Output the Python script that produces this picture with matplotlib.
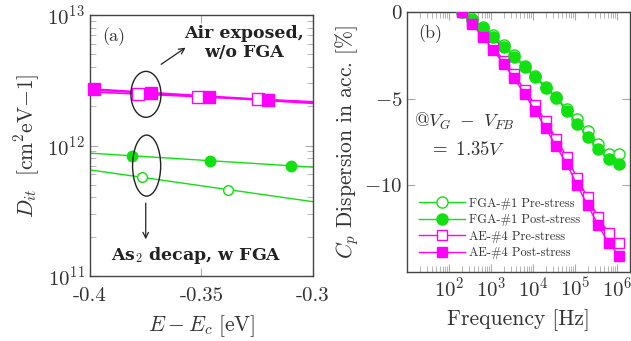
import numpy as np
import matplotlib
matplotlib.use("Agg")
import matplotlib.pyplot as plt
from matplotlib.patches import Ellipse
from matplotlib.ticker import LogLocator, NullFormatter, FixedLocator

plt.rcParams['font.family'] = ['cmr10', 'DejaVu Serif']
plt.rcParams['mathtext.fontset'] = 'cm'
plt.rcParams['axes.formatter.use_mathtext'] = True
plt.rcParams['axes.unicode_minus'] = False

MAG = '#ff00ff'
GRN = '#11e011'
TXT = '#333333'

# ---- panel (a) data: Dit vs E-Ec
ae_pre_E = [-0.3786, -0.3517, -0.3248]
ae_pre_D = [2.48e12, 2.37e12, 2.26e12]
ae_post_E = [-0.398, -0.3728, -0.3466, -0.320]
ae_post_D = [2.70e12, 2.51e12, 2.37e12, 2.23e12]
fga_pre_E = [-0.3765, -0.3383]
fga_pre_D = [5.7e11, 4.6e11]
fga_post_E = [-0.3813, -0.3462, -0.310]
fga_post_D = [8.35e11, 7.64e11, 7.0e11]

# ---- panel (b) data: Cp dispersion vs frequency
freq = [200, 356, 632, 1125, 2000, 3557, 6325, 11250, 20000, 35570,
        63250, 112500, 200000, 355700, 632500, 1125000]
fga_pre = [0, -0.4, -0.85, -1.35, -1.9, -2.5, -3.1, -3.7, -4.3, -4.9,
           -5.6, -6.2, -6.88, -7.64, -8.18, -8.22]
fga_post = [0, -0.45, -0.9, -1.42, -2.0, -2.6, -3.2, -3.77, -4.37, -4.97,
            -5.7, -6.45, -7.22, -7.93, -8.5, -8.75]
ae_pre = [0, -0.6, -1.3, -2.0, -2.8, -3.6, -4.5, -5.35, -6.3, -7.3,
          -8.35, -9.6, -10.7, -11.85, -12.75, -13.35]
ae_post = [0, -0.7, -1.42, -2.18, -3.0, -3.82, -4.75, -5.7, -6.7, -7.75,
           -8.75, -10.0, -11.15, -12.3, -13.35, -14.05]

fig = plt.figure(figsize=(6.31, 3.41), dpi=100)
ax1 = fig.add_axes([0.1426, 0.1906, 0.3534, 0.7654])
ax2 = fig.add_axes([0.645, 0.2023, 0.353, 0.7625])


def style_axes(ax):
    for s in ax.spines.values():
        s.set_color('#444444')
        s.set_linewidth(1.0)
    ax.tick_params(which='both', direction='in', top=True, right=True,
                   color='#aaaaaa', labelcolor=TXT, labelsize=15)
    ax.tick_params(which='major', length=6)
    ax.tick_params(which='minor', length=4)


# ---------------- panel (a)
style_axes(ax1)
xx = np.linspace(-0.4, -0.3, 50)


def fit_line(E, D, color, lw):
    p = np.polyfit(E, np.log10(D), 1)
    ax1.plot(xx, 10 ** np.polyval(p, xx), color=color, lw=lw, zorder=2)


fit_line(ae_post_E, ae_post_D, MAG, 1.8)
fit_line(ae_pre_E, ae_pre_D, MAG, 1.2)
fit_line(fga_post_E, fga_post_D, GRN, 1.0)
fit_line(fga_pre_E, fga_pre_D, GRN, 1.0)

ax1.plot(ae_pre_E, ae_pre_D, 's', ms=9, mfc='white', mec=MAG, mew=1.0, zorder=3, ls='none')
ax1.plot(ae_post_E, ae_post_D, 's', ms=9, color=MAG, zorder=4, ls='none', clip_on=False)
ax1.plot(fga_pre_E, fga_pre_D, 'o', ms=7, mfc='white', mec=GRN, mew=1.0, zorder=3, ls='none')
ax1.plot(fga_post_E, fga_post_D, 'o', ms=7.5, color=GRN, zorder=4, ls='none')

ax1.set_yscale('log')
ax1.set_xlim(-0.4, -0.3)
ax1.set_ylim(1e11, 1e13)
ax1.xaxis.set_major_locator(FixedLocator([-0.4, -0.35, -0.3]))
ax1.set_xticklabels(['-0.4', '-0.35', '-0.3'])
ax1.yaxis.set_major_locator(LogLocator(base=10, numticks=5))
ax1.yaxis.set_minor_locator(LogLocator(base=10, subs=np.arange(2, 10), numticks=20))
ax1.yaxis.set_minor_formatter(NullFormatter())
ax1.tick_params(axis='x', pad=8)

ax1.set_xlabel(r'$E - E_c\ [\mathrm{eV}]$', fontsize=15.5, color=TXT, labelpad=6)
ax1.set_ylabel(r'$D_{it}\ \ [\mathrm{cm}^2\mathrm{eV}{-}1]$', fontsize=15.5, color=TXT, labelpad=4)

ax1.text(0.055, 0.90, '(a)', transform=ax1.transAxes, fontsize=13, color=TXT)

# ellipses in axes coordinates
ax1.add_patch(Ellipse((0.251, 0.696), 0.135, 0.176, transform=ax1.transAxes,
                      fill=False, ec='#222222', lw=1.0, zorder=5))
ax1.add_patch(Ellipse((0.254, 0.423), 0.126, 0.234, transform=ax1.transAxes,
                      fill=False, ec='#222222', lw=1.0, zorder=5))
ax1.annotate('', xy=(0.439, 0.881), xytext=(0.309, 0.805), xycoords='axes fraction',
             arrowprops=dict(arrowstyle='->', color='#222222', lw=0.9))
ax1.annotate('', xy=(0.25, 0.13), xytext=(0.25, 0.29), xycoords='axes fraction',
             arrowprops=dict(arrowstyle='->', color='#222222', lw=0.9))
ax1.text(0.69, 0.893, 'Air exposed,\nw/o FGA', transform=ax1.transAxes,
         family='DejaVu Serif', weight='bold', fontsize=12.5, ha='center', va='center',
         color='#222222', linespacing=1.1)
ax1.text(0.475, 0.08, r'As$_{\mathbf{2}}$ decap, w FGA', transform=ax1.transAxes,
         family='DejaVu Serif', weight='bold', fontsize=12.5, ha='center', va='center',
         color='#222222')

# ---------------- panel (b)
style_axes(ax2)
ax2.plot(freq, fga_pre, '-o', color=GRN, ms=8, mfc='white', mec=GRN, mew=1.0, lw=1.0,
         label='FGA-#1 Pre-stress', zorder=3)
ax2.plot(freq, fga_post, '-o', color=GRN, ms=8, lw=1.0,
         label='FGA-#1 Post-stress', zorder=4)
ax2.plot(freq, ae_pre, '-s', color=MAG, ms=7.5, mfc='white', mec=MAG, mew=1.0, lw=1.0,
         label='AE-#4 Pre-stress', zorder=3)
ax2.plot(freq, ae_post, '-s', color=MAG, ms=7.5, lw=1.0,
         label='AE-#4 Post-stress', zorder=4)

ax2.set_xscale('log')
ax2.set_xlim(10, 2e6)
ax2.set_ylim(-15, 0)
ax2.xaxis.set_major_locator(FixedLocator([1e2, 1e3, 1e4, 1e5, 1e6]))
ax2.xaxis.set_minor_locator(LogLocator(base=10, subs=np.arange(2, 10), numticks=20))
ax2.xaxis.set_minor_formatter(NullFormatter())
ax2.yaxis.set_major_locator(FixedLocator([0, -5, -10]))
ax2.set_yticklabels(['$0$', '$-5$', '$-10$'])

ax2.set_xlabel('Frequency [Hz]', fontsize=15.5, color=TXT, labelpad=6)
ax2.set_ylabel(r'$C_p$ Dispersion in acc. [%]', fontsize=15.5, color=TXT, labelpad=2)

ax2.text(0.05, 0.90, '(b)', transform=ax2.transAxes, fontsize=13, color=TXT)
ax2.text(0.03, 0.56, r'$\mathbf{@}V_G\ -\ V_{FB}$', transform=ax2.transAxes,
         fontsize=13.5, color=TXT)
ax2.text(0.10, 0.45, r'$=\ 1.35V$', transform=ax2.transAxes, fontsize=13.5, color=TXT)

leg = ax2.legend(loc='lower left', bbox_to_anchor=(0.02, 0.02), frameon=False,
                 fontsize=9, handlelength=3.7, handletextpad=0.3,
                 labelspacing=0.35, borderaxespad=0.2)
for t in leg.get_texts():
    t.set_color(TXT)

fig.savefig('out.png', dpi=100)
